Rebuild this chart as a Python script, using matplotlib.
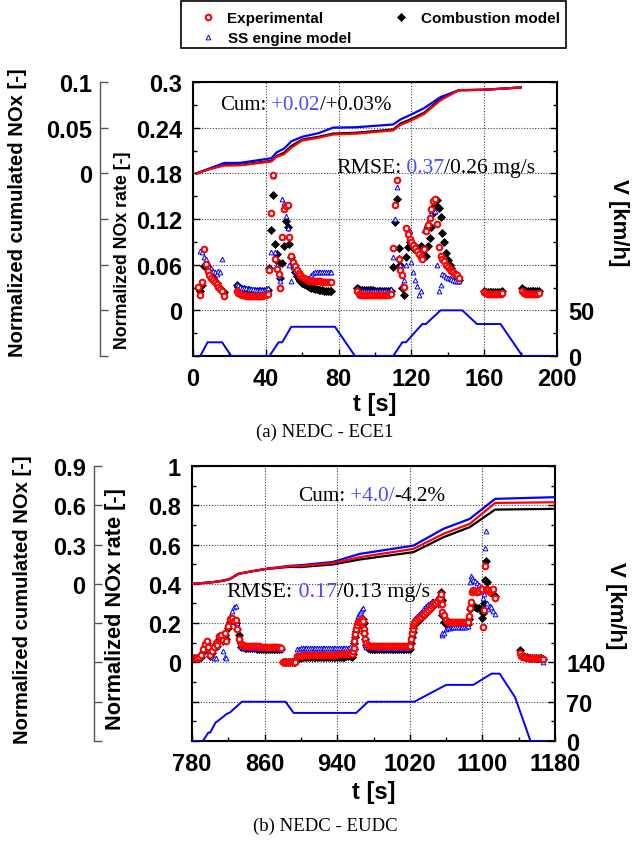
import numpy as np
import matplotlib
matplotlib.use('Agg')
import matplotlib.pyplot as plt
from matplotlib.lines import Line2D
from matplotlib.patches import Rectangle

plt.rcParams['font.family'] = ['Liberation Sans', 'DejaVu Sans']
plt.rcParams['font.weight'] = 'bold'
plt.rcParams['axes.labelweight'] = 'bold'

W, H = 639, 845

# ---------------- (a) NEDC - ECE1 ----------------
t_ece = np.r_[3:18, 24:42, 42:77, 90:109, 109:147, 160:171, 181:191]
exp_ece = [
    0.031, 0.020, 0.037, 0.080, 0.061, 0.052, 0.047, 0.043, 0.040, 0.037, 0.034, 0.031, 0.028, 0.025, 0.019,
    0.025, 0.023, 0.021, 0.020, 0.020, 0.019, 0.019, 0.019, 0.019, 0.019, 0.019, 0.019, 0.019, 0.019, 0.019, 0.020, 0.020, 0.022,
    0.053, 0.128, 0.178, 0.068, 0.054, 0.048, 0.030, 0.096, 0.133, 0.137, 0.138, 0.096,
    0.072, 0.064, 0.058, 0.053, 0.049, 0.046, 0.044, 0.042, 0.041, 0.040, 0.039,
    0.039, 0.038, 0.038, 0.038, 0.038, 0.038, 0.037, 0.037, 0.037, 0.037, 0.037, 0.037,
    0.025, 0.022, 0.020, 0.020, 0.020, 0.020, 0.020, 0.020, 0.020, 0.020, 0.020, 0.020, 0.020, 0.020, 0.020, 0.020, 0.020, 0.020, 0.021,
    0.022, 0.082, 0.139, 0.171, 0.068, 0.053, 0.047, 0.031,
    0.108, 0.100, 0.094, 0.090, 0.086, 0.082, 0.078, 0.074, 0.070, 0.067,
    0.080, 0.104, 0.112, 0.121, 0.133, 0.143, 0.146, 0.113, 0.083, 0.072,
    0.068, 0.065, 0.060, 0.057, 0.054, 0.052, 0.050, 0.048, 0.046, 0.043,
    0.024, 0.023, 0.022, 0.022, 0.022, 0.022, 0.022, 0.022, 0.022, 0.022, 0.023,
    0.025, 0.023, 0.022, 0.022, 0.022, 0.022, 0.022, 0.022, 0.022, 0.023,
]
comb_ece = [
    0.030, 0.026, 0.033, 0.058, 0.061, 0.055, 0.050, 0.046, 0.043, 0.039, 0.036, 0.032, 0.029, 0.026, 0.024,
    0.033, 0.031, 0.029, 0.028, 0.028, 0.027, 0.027, 0.027, 0.026, 0.026, 0.026, 0.026, 0.026, 0.026, 0.026, 0.026, 0.026, 0.027,
    0.055, 0.106, 0.152, 0.087, 0.074, 0.062, 0.043, 0.062, 0.085, 0.117, 0.109, 0.087,
    0.070, 0.058, 0.050, 0.045, 0.041, 0.038, 0.036, 0.034, 0.033, 0.032, 0.031,
    0.030, 0.029, 0.028, 0.028, 0.027, 0.027, 0.027, 0.026, 0.026, 0.026, 0.025, 0.025,
    0.030, 0.028, 0.027, 0.027, 0.027, 0.027, 0.027, 0.027, 0.027, 0.027, 0.026, 0.026, 0.026, 0.026, 0.026, 0.026, 0.026, 0.026, 0.025,
    0.025, 0.057, 0.116, 0.146, 0.082, 0.060, 0.030, 0.020,
    0.070, 0.083, 0.090, 0.085, 0.082, 0.085, 0.080, 0.080, 0.085, 0.075,
    0.072, 0.072, 0.085, 0.095, 0.110, 0.128, 0.138, 0.145, 0.135, 0.122,
    0.102, 0.090, 0.075, 0.066, 0.060, 0.055, 0.050, 0.046, 0.043, 0.040,
    0.025, 0.024, 0.024, 0.024, 0.024, 0.024, 0.024, 0.024, 0.024, 0.024, 0.025,
    0.029, 0.027, 0.026, 0.026, 0.026, 0.026, 0.026, 0.026, 0.026, 0.026,
]
ss_ece = [
    0.032, 0.078, 0.076, 0.070, 0.067, 0.062, 0.057, 0.055, 0.052, 0.050, 0.048, 0.052, 0.050, 0.067, 0.024,
    0.035, 0.033, 0.031, 0.030, 0.029, 0.029, 0.028, 0.028, 0.028, 0.028, 0.027, 0.027, 0.027, 0.027, 0.027, 0.027, 0.028, 0.030,
    0.055, 0.076, 0.176, 0.076, 0.059, 0.045, 0.039, 0.146, 0.141, 0.124, 0.108, 0.060,
    0.039, 0.057, 0.052, 0.050, 0.048, 0.046, 0.045, 0.044, 0.043, 0.042, 0.042,
    0.046, 0.049, 0.050, 0.050, 0.050, 0.050, 0.050, 0.050, 0.050, 0.050, 0.050, 0.051,
    0.029, 0.026, 0.025, 0.025, 0.025, 0.025, 0.025, 0.025, 0.025, 0.025, 0.025, 0.025, 0.025, 0.025, 0.025, 0.025, 0.025, 0.025, 0.027,
    0.028, 0.070, 0.120, 0.162, 0.070, 0.059, 0.033, 0.040,
    0.060, 0.107, 0.104, 0.064, 0.050, 0.040, 0.032, 0.020, 0.026, 0.075,
    0.105, 0.112, 0.118, 0.122, 0.126, 0.134, 0.131, 0.059, 0.025, 0.033,
    0.048, 0.046, 0.044, 0.043, 0.042, 0.041, 0.040, 0.039, 0.038, 0.038,
    0.024, 0.023, 0.023, 0.023, 0.023, 0.023, 0.023, 0.023, 0.023, 0.023, 0.024,
    0.027, 0.025, 0.024, 0.024, 0.024, 0.024, 0.024, 0.024, 0.024, 0.024,
]

# cumulated NOx (normalized)
tc_ece = [2, 10, 17, 26, 43, 46, 50, 54, 60, 69, 77, 90, 110, 114, 120, 127, 136, 146, 160, 180]
cum_ss_ece = [0.0, 0.006, 0.0113, 0.0115, 0.0165, 0.023, 0.027, 0.035, 0.040, 0.044, 0.050, 0.0505,
              0.0535, 0.059, 0.0645, 0.0714, 0.0835, 0.091, 0.0915, 0.094]
cum_exp_ece = [0.0, 0.005, 0.0085, 0.0088, 0.0129, 0.018, 0.021, 0.028, 0.036, 0.039, 0.0425, 0.0435,
               0.047, 0.053, 0.058, 0.065, 0.080, 0.091, 0.0915, 0.094]
cum_comb_ece = [0.0, 0.0055, 0.009, 0.0093, 0.0137, 0.019, 0.0225, 0.030, 0.037, 0.040, 0.0435, 0.0445,
                0.048, 0.0545, 0.0595, 0.0665, 0.0815, 0.091, 0.0915, 0.094]

# vehicle speed
tv_ece = [0, 4, 8, 16, 21, 42, 47, 49, 54, 78, 89, 110, 115, 117, 126, 128, 136, 148, 156, 169, 181, 200]
v_ece = [0, 0, 15, 15, 0, 0, 15, 15, 32, 32, 0, 0, 15, 15, 35, 35, 50, 50, 35, 35, 0, 0]

# ---------------- (b) NEDC - EUDC ----------------
t_eudc = np.r_[np.arange(780, 833, 2), np.arange(834, 879, 2), np.arange(880, 895, 2),
               np.arange(896, 955, 2), np.arange(956, 973, 1), np.arange(974, 1019, 2),
               [1020, 1021, 1022, 1023, 1024, 1025, 1026, 1028, 1030, 1032, 1034, 1036, 1038,
                1040, 1042, 1044, 1046, 1048, 1050, 1052, 1053, 1054, 1055, 1056],
               np.arange(1058, 1085, 2),
               [1085, 1086, 1087, 1088, 1090, 1092, 1094, 1096, 1098, 1100, 1101, 1102, 1103,
                1104, 1105, 1106, 1108, 1110, 1112, 1114],
               np.arange(1141, 1168, 2)]
exp_eudc = [
    0.024, 0.024, 0.024, 0.024, 0.026, 0.036, 0.066, 0.092, 0.109, 0.080, 0.040, 0.060, 0.080, 0.100,
    0.090, 0.134, 0.142, 0.115, 0.151, 0.110, 0.185, 0.219, 0.227, 0.210, 0.215, 0.171, 0.120,
    0.092, 0.088, 0.086, 0.085, 0.085, 0.084, 0.084, 0.083, 0.083, 0.082, 0.082, 0.081, 0.081, 0.080,
    0.080, 0.079, 0.079, 0.078, 0.078, 0.077, 0.077, 0.076, 0.075,
    0.003, 0.0, 0.0, 0.0, 0.0, 0.0, 0.0, 0.002,
    0.032, 0.034, 0.035, 0.036, 0.036, 0.037, 0.037, 0.037, 0.038, 0.038,
    0.038, 0.038, 0.039, 0.039, 0.039, 0.039, 0.039, 0.040, 0.040, 0.040,
    0.040, 0.040, 0.040, 0.041, 0.041, 0.041, 0.041, 0.041, 0.041, 0.042,
    0.041, 0.060, 0.075, 0.109, 0.143, 0.168, 0.193, 0.205, 0.210, 0.212, 0.205, 0.219, 0.210, 0.170,
    0.151, 0.117, 0.097,
    0.088, 0.086, 0.085, 0.085, 0.085, 0.084, 0.084, 0.084, 0.084, 0.084,
    0.083, 0.083, 0.083, 0.083, 0.083, 0.083, 0.082, 0.082, 0.082, 0.082, 0.082, 0.082, 0.083,
    0.083, 0.120, 0.148, 0.171, 0.188, 0.200, 0.210, 0.219, 0.225, 0.232, 0.240, 0.249, 0.257,
    0.266, 0.276, 0.287, 0.296, 0.304, 0.313, 0.321, 0.329, 0.346, 0.295, 0.256,
    0.239, 0.215, 0.208, 0.206, 0.205, 0.205, 0.205, 0.205, 0.205, 0.205, 0.205, 0.206, 0.206, 0.208,
    0.236, 0.278, 0.307, 0.358, 0.368, 0.362, 0.357, 0.365, 0.372, 0.375, 0.180, 0.266, 0.490,
    0.372, 0.370, 0.371, 0.357, 0.370, 0.374, 0.330,
    0.049, 0.035, 0.030, 0.027, 0.025, 0.023, 0.022, 0.021, 0.021, 0.020, 0.020, 0.020, 0.019, 0.015,
]
comb_eudc = [
    0.020, 0.020, 0.021, 0.021, 0.022, 0.030, 0.055, 0.080, 0.100, 0.072, 0.035, 0.050, 0.075, 0.095,
    0.085, 0.120, 0.130, 0.110, 0.140, 0.120, 0.175, 0.205, 0.220, 0.215, 0.200, 0.170, 0.140,
    0.080, 0.076, 0.074, 0.073, 0.073, 0.072, 0.072, 0.071, 0.071, 0.070, 0.070, 0.070, 0.069, 0.069,
    0.069, 0.068, 0.068, 0.068, 0.067, 0.067, 0.067, 0.066, 0.066,
    0.0, 0.0, 0.0, 0.0, 0.0, 0.0, 0.0, 0.0,
    0.022, 0.024, 0.025, 0.026, 0.026, 0.027, 0.027, 0.027, 0.027, 0.028,
    0.028, 0.028, 0.028, 0.028, 0.029, 0.029, 0.029, 0.029, 0.029, 0.029,
    0.030, 0.030, 0.030, 0.030, 0.030, 0.030, 0.030, 0.031, 0.031, 0.031,
    0.030, 0.045, 0.070, 0.100, 0.130, 0.160, 0.180, 0.195, 0.200, 0.205, 0.210, 0.215, 0.219, 0.200,
    0.151, 0.117, 0.090,
    0.072, 0.070, 0.069, 0.069, 0.068, 0.068, 0.068, 0.068, 0.068, 0.067,
    0.067, 0.067, 0.067, 0.067, 0.067, 0.066, 0.066, 0.066, 0.066, 0.066, 0.066, 0.066, 0.067,
    0.070, 0.100, 0.130, 0.155, 0.175, 0.190, 0.200, 0.210, 0.218, 0.226, 0.235, 0.243, 0.252,
    0.262, 0.272, 0.283, 0.292, 0.300, 0.310, 0.320, 0.335, 0.357, 0.320, 0.240,
    0.205, 0.195, 0.192, 0.190, 0.190, 0.190, 0.190, 0.190, 0.190, 0.190, 0.191, 0.191, 0.192, 0.195,
    0.220, 0.270, 0.280, 0.285, 0.285, 0.280, 0.275, 0.278, 0.272, 0.227, 0.250, 0.300, 0.420,
    0.516, 0.409, 0.370, 0.360, 0.360, 0.350, 0.340,
    0.065, 0.045, 0.035, 0.030, 0.027, 0.025, 0.024, 0.023, 0.022, 0.022, 0.021, 0.021, 0.020, 0.018,
]
ss_eudc = [
    0.024, 0.024, 0.024, 0.025, 0.027, 0.040, 0.075, 0.098, 0.105, 0.070, 0.045, 0.040, 0.025, 0.020,
    0.085, 0.125, 0.130, 0.060, 0.030, 0.020, 0.190, 0.235, 0.260, 0.280, 0.287, 0.200, 0.110,
    0.082, 0.078, 0.077, 0.076, 0.076, 0.075, 0.075, 0.075, 0.074, 0.074, 0.074, 0.073, 0.073, 0.073,
    0.073, 0.072, 0.072, 0.072, 0.071, 0.071, 0.071, 0.070, 0.070,
    0.004, 0.002, 0.002, 0.002, 0.002, 0.002, 0.002, 0.004,
    0.066, 0.070, 0.071, 0.072, 0.072, 0.072, 0.073, 0.073, 0.073, 0.073,
    0.073, 0.073, 0.074, 0.074, 0.074, 0.074, 0.074, 0.074, 0.074, 0.074,
    0.074, 0.075, 0.075, 0.075, 0.075, 0.075, 0.075, 0.075, 0.075, 0.076,
    0.075, 0.085, 0.110, 0.140, 0.170, 0.200, 0.220, 0.236, 0.245, 0.253, 0.262, 0.270, 0.278, 0.180,
    0.120, 0.090, 0.080,
    0.079, 0.077, 0.076, 0.076, 0.076, 0.075, 0.075, 0.075, 0.075, 0.075,
    0.075, 0.075, 0.074, 0.074, 0.074, 0.074, 0.074, 0.074, 0.074, 0.074, 0.074, 0.074, 0.075,
    0.076, 0.110, 0.150, 0.180, 0.200, 0.215, 0.225, 0.235, 0.245, 0.255, 0.265, 0.275, 0.285,
    0.295, 0.305, 0.312, 0.315, 0.310, 0.305, 0.300, 0.290, 0.250, 0.142, 0.150,
    0.150, 0.168, 0.175, 0.177, 0.178, 0.178, 0.178, 0.178, 0.178, 0.178, 0.179, 0.179, 0.180, 0.185,
    0.210, 0.410, 0.440, 0.430, 0.420, 0.415, 0.405, 0.395, 0.380, 0.360, 0.330, 0.350, 0.584,
    0.668, 0.300, 0.270, 0.287, 0.280, 0.260, 0.244,
    0.055, 0.038, 0.030, 0.026, 0.024, 0.022, 0.021, 0.020, 0.020, 0.019, 0.019, 0.018, 0.015, 0.003,
]

tc_eudc = [780, 790, 803, 815, 822, 831, 845, 862, 888, 899, 935, 965, 1024, 1057, 1086, 1114, 1180]
cum_ss_eudc = [0.0, 0.005, 0.013, 0.025, 0.038, 0.076, 0.095, 0.115, 0.138, 0.142, 0.167,
               0.229, 0.292, 0.420, 0.496, 0.649, 0.662]
cum_exp_eudc = [0.0, 0.005, 0.013, 0.025, 0.038, 0.076, 0.095, 0.115, 0.135, 0.135, 0.158,
                0.204, 0.267, 0.382, 0.458, 0.618, 0.623]
cum_comb_eudc = [0.0, 0.005, 0.013, 0.025, 0.038, 0.076, 0.095, 0.113, 0.130, 0.128, 0.148,
                 0.186, 0.242, 0.356, 0.433, 0.567, 0.573]

tv_eudc = [780, 792, 798, 800, 806, 808, 818, 822, 835, 883, 892, 961, 974, 1025, 1060, 1090,
           1110, 1119, 1136, 1153, 1170]
v_eudc = [0, 0, 15, 15, 33, 35, 48, 51, 70, 70, 50, 50, 70, 70, 100, 100, 120, 120, 78, 0, 0]

BLUE_TXT = '#4a4aff'
EXP = dict(ls='none', marker='o', ms=4.0, mfc='white', mec='red', mew=1.5)
COMB = dict(ls='none', marker='D', ms=3.8, mfc='black', mec='black', mew=0.5)
SS = dict(ls='none', marker='^', ms=3.4, mfc='white', mec='blue', mew=0.7)


def px_rect(x0, y0, x1, y1):
    return [x0 / W, 1 - y1 / H, (x1 - x0) / W, (y1 - y0) / H]


def colored_text(ax, x, y, parts, size):
    txt = ax.text(x, y, parts[0][0], color=parts[0][1], transform=ax.transAxes,
                  fontsize=size, family='Liberation Serif', weight='normal', va='baseline')
    for s, c in parts[1:]:
        txt = ax.annotate(s, xy=(1, 0), xycoords=txt, va='bottom', ha='left', color=c,
                          fontsize=size, family='Liberation Serif', weight='normal')


def panel(rect, t, exp, comb, ss, tc, c_exp, c_comb, c_ss, tv, v, cfg):
    ax = fig.add_axes(rect)
    cax = ax.twinx()
    vax = ax.twinx()

    ax.plot(t, comb, **COMB)
    ax.plot(t, ss, **SS)
    ax.plot(t, exp, **EXP)

    cax.plot(tc, c_comb, color='black', lw=1.6)
    cax.plot(tc, c_ss, color='blue', lw=1.6)
    cax.plot(tc, c_exp, color='red', lw=1.6)

    vax.plot(tv, v, color='blue', lw=1.4)

    # main axis
    x0, x1 = cfg['xlim']
    ax.set_xlim(x0, x1)
    ax.set_xticks(np.arange(x0, x1 + 1, cfg['xmaj']))
    ax.set_xticks(np.arange(x0, x1 + 1, cfg['xmaj'] / 2), minor=True)
    ax.set_ylim(*cfg['ylim'])
    ax.set_yticks(cfg['yticks'], cfg['ylabels'])
    step = cfg['yticks'][1] - cfg['yticks'][0]
    ax.set_yticks(np.arange(cfg['ylim'][0], cfg['ylim'][1] + 1e-9, step / 2), minor=True)
    ax.tick_params(which='both', direction='in', labelsize=17)
    ax.tick_params(which='major', length=5, width=1)
    ax.tick_params(which='minor', length=3, width=1)
    ax.tick_params(axis='y', pad=8)
    ax.tick_params(axis='x', pad=8)
    ax.grid(True, which='major', ls=(0, (1, 1.5)), color='#444444', lw=0.8)
    for s in ax.spines.values():
        s.set_linewidth(1.5)
    ax.set_xlabel('t [s]', fontsize=17)
    ax.xaxis.set_label_coords(0.5, cfg['xlab_y'])
    ax.xaxis.label.set_va('center')
    ax.set_ylabel('Normalized NOx rate [-]', fontsize=cfg['rate_fs'])
    ax.yaxis.set_label_coords(*cfg['rate_pos'])
    ax.yaxis.label.set_va('center')

    # cumulated axis on the far left
    cax.yaxis.tick_left()
    cax.yaxis.set_label_position('left')
    cax.spines['left'].set_position(('axes', cfg['cum_off']))
    cax.spines['left'].set_visible(True)
    cax.spines['left'].set_color('#555555')
    cax.spines['left'].set_linewidth(1.0)
    for k in ('right', 'top', 'bottom'):
        cax.spines[k].set_visible(False)
    cax.set_ylim(*cfg['cylim'])
    cax.set_yticks(cfg['cticks'], cfg['clabels'])
    cax.tick_params(axis='y', direction='in', length=6, width=1, color='#555555',
                    labelsize=17, pad=6)
    cax.set_ylabel('Normalized cumulated NOx [-]', fontsize=cfg['cum_fs'])
    cax.yaxis.set_label_coords(*cfg['cum_pos'])
    cax.yaxis.label.set_va('center')

    # speed axis on the right
    for s in vax.spines.values():
        s.set_visible(False)
    vax.set_ylim(*cfg['vylim'])
    vax.set_yticks(cfg['vticks'], cfg['vlabels'])
    vstep = cfg['vticks'][1] - cfg['vticks'][0]
    vax.set_yticks(np.arange(0, cfg['vylim'][1] + 1, vstep / 2), minor=True)
    vax.tick_params(which='both', direction='in', labelsize=17, pad=8)
    vax.tick_params(which='major', length=5, width=1)
    vax.tick_params(which='minor', length=3, width=1)
    # speed label placed as plain text so its position is exact
    ax.text(cfg['v_pos'][0], cfg['v_pos'][1], 'V [km/h]', transform=ax.transAxes,
            rotation=270, rotation_mode='anchor', ha='center', va='center',
            fontsize=16, weight='bold')

    colored_text(ax, *cfg['cum_txt'])
    colored_text(ax, *cfg['rmse_txt'])
    return ax


fig = plt.figure(figsize=(W / 100, H / 100), dpi=100)

panel(px_rect(193, 83, 557, 357), t_ece, exp_ece, comb_ece, ss_ece,
      tc_ece, cum_exp_ece, cum_comb_ece, cum_ss_ece, tv_ece, v_ece,
      dict(xlim=(0, 200), xmaj=40, xlab_y=-0.175,
           ylim=(-0.06, 0.3), yticks=[-0.06, 0, 0.06, 0.12, 0.18, 0.24, 0.3],
           ylabels=['', '0', '0.06', '0.12', '0.18', '0.24', '0.3'],
           rate_fs=12.8, rate_pos=(-0.195, 0.39),
           cum_off=-0.255, cylim=(-0.2, 0.1),
           cticks=[-0.2, -0.15, -0.1, -0.05, 0, 0.05, 0.1],
           clabels=['', '', '', '', '0', '0.05', '0.1'],
           cum_fs=14.6, cum_pos=(-0.481, 0.525),
           vylim=(0, 300), vticks=[0, 50, 100, 150, 200, 250, 300],
           vlabels=['0', '50', '', '', '', '', ''], v_pos=(1.168, 0.49),
           cum_txt=(0.074, 0.901, [('Cum:', 'black'), (' +0.02', BLUE_TXT), ('/+0.03%', 'black')], 15),
           rmse_txt=(0.393, 0.672, [('RMSE:', 'black'), (' 0.37', BLUE_TXT), ('/0.26 mg/s', 'black')], 15.6)))

panel(px_rect(192, 467, 555, 742), t_eudc, exp_eudc, comb_eudc, ss_eudc,
      tc_eudc, cum_exp_eudc, cum_comb_eudc, cum_ss_eudc, tv_eudc, v_eudc,
      dict(xlim=(780, 1180), xmaj=80, xlab_y=-0.185,
           ylim=(-0.4, 1.0), yticks=[-0.4, -0.2, 0, 0.2, 0.4, 0.6, 0.8, 1.0],
           ylabels=['', '', '0', '0.2', '0.4', '0.6', '0.8', '1'],
           rate_fs=15.7, rate_pos=(-0.212, 0.484),
           cum_off=-0.27, cylim=(-1.2, 0.9),
           cticks=[-1.2, -0.9, -0.6, -0.3, 0, 0.3, 0.6, 0.9],
           clabels=['', '', '', '', '0', '0.3', '0.6', '0.9'],
           cum_fs=14.6, cum_pos=(-0.468, 0.516),
           vylim=(0, 490), vticks=[0, 70, 140, 210, 280, 350, 420, 490],
           vlabels=['0', '70', '140', '', '', '', '', ''], v_pos=(1.168, 0.495),
           cum_txt=(0.291, 0.876, [('Cum:', 'black'), (' +4.0/', BLUE_TXT), ('-4.2%', 'black')], 15.3),
           rmse_txt=(0.0955, 0.527, [('RMSE:', 'black'), (' 0.17', BLUE_TXT), ('/0.13 mg/s', 'black')], 15.8)))

fig.text(325 / W, 1 - 432 / H, '(a) NEDC - ECE1', ha='center', va='center',
         family='Liberation Serif', weight='normal', fontsize=13.5)
fig.text(325 / W, 1 - 826 / H, '(b) NEDC - EUDC', ha='center', va='center',
         family='Liberation Serif', weight='normal', fontsize=13.5)

# legend on top
fig.patches.append(Rectangle((181 / W, 1 - 49 / H), 385 / W, 47 / H, transform=fig.transFigure,
                             fill=False, edgecolor='black', lw=1.2))
handles = [Line2D([], [], **EXP), Line2D([], [], **SS), Line2D([], [], **COMB)]
fig.legend(handles, ['Experimental', 'SS engine model', 'Combustion model'], ncol=2,
           loc='upper left', bbox_to_anchor=(200 / W, 1 - 12 / H), frameon=False,
           borderpad=0, borderaxespad=0, handlelength=1.0, handletextpad=0.8,
           columnspacing=2.8, labelspacing=0.4, prop=dict(weight='bold', size=11))

fig.savefig('out.png', dpi=100)
